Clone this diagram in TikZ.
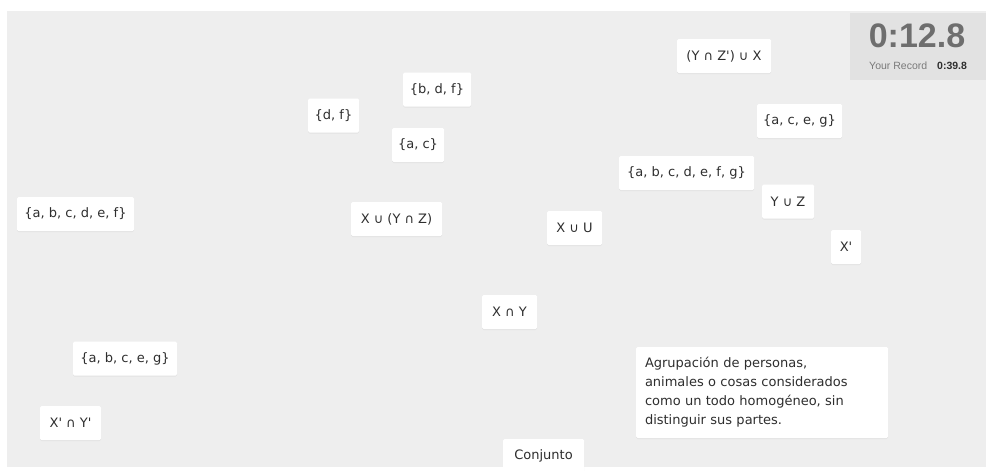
\documentclass[tikz,border=0pt]{standalone}
\usepackage{fontspec}
\setmainfont{DejaVu Sans}[Ligatures=TeXOff]
\newfontfamily\timerfont{Liberation Sans}
\usetikzlibrary{shadows}
\definecolor{bggray}{HTML}{EEEEEE}
\definecolor{timerbg}{HTML}{E2E2E2}
\definecolor{txt}{HTML}{2E2E2E}
\definecolor{timertxt}{HTML}{6E6E6E}
\definecolor{rectxt}{HTML}{7A7A7A}
\begin{document}
\begin{tikzpicture}[x=1pt,y=-1pt,
  card/.style={fill=white, draw=none, inner sep=0pt, rounded corners=1.5pt,
    minimum height=34pt, text=txt, font=\fontsize{13}{15}\selectfont,
    drop shadow={opacity=0.10, shadow xshift=0pt, shadow yshift=-1pt}},
  deftext/.style={card, align=left, inner xsep=9pt, anchor=center,
    font=\fontsize{13}{19}\selectfont}
]
\useasboundingbox (0,0) rectangle (986,471);
\fill[white] (0,0) rectangle (986,471);
\fill[bggray] (7,11) rectangle (986,467);
% timer
\fill[timerbg] (850,13) rectangle (986,80);
\node[anchor=base, inner sep=0pt, text=timertxt, font=\timerfont\bfseries\fontsize{34}{36}\selectfont] (timer) at (917,47) {0:12.8};
\node[anchor=base west, inner sep=0pt, text=rectxt, font=\timerfont\fontsize{10.5}{12}\selectfont] (reclabel) at (869,69) {Your Record};
\node[anchor=base west, inner sep=0pt, text=txt, font=\timerfont\bfseries\fontsize{10.5}{12}\selectfont] (recval) at (937,69) {0:39.8};
% cards
\node[card, minimum width=51pt] (df) at (333.5,115.5) {\{d, f\}};
\node[card, minimum width=68pt] (bdf) at (437,89.5) {\{b, d, f\}};
\node[card, minimum width=52pt] (ac) at (418,145) {\{a, c\}};
\node[card, minimum width=91pt] (xuyz) at (396.5,219) {X ∪ (Y ∩ Z)};
\node[card, minimum width=55pt] (xuu) at (574.5,228) {X ∪ U};
\node[card, minimum width=117pt] (abcdef) at (75.5,214) {\{a, b, c, d, e, f\}};
\node[card, minimum width=94pt] (yzx) at (724,56) {(Y ∩ Z') ∪ X};
\node[card, minimum width=85pt] (aceg) at (799.5,121) {\{a, c, e, g\}};
\node[card, minimum width=135pt] (abcdefg) at (686.5,173) {\{a, b, c, d, e, f, g\}};
\node[card, minimum width=52pt] (yuz) at (788,201.5) {Y ∪ Z};
\node[card, minimum width=30pt] (xc) at (846,247) {X'};
\node[card, minimum width=55pt] (xny) at (509.5,312) {X ∩ Y};
\node[card, minimum width=104pt] (abceg) at (125,358.5) {\{a, b, c, e, g\}};
\node[card, minimum width=61pt] (xcnyc) at (70.5,423) {X' ∩ Y'};
\node[card, minimum width=81pt] (conj) at (543.5,456) {Conjunto};
\node[deftext, minimum width=252pt, minimum height=91pt, text width=234pt] (def) at (762,392.5)
  {Agrupación de personas,\\animales o cosas considerados\\como un todo homogéneo, sin\\distinguir sus partes.};
\end{tikzpicture}
\end{document}
